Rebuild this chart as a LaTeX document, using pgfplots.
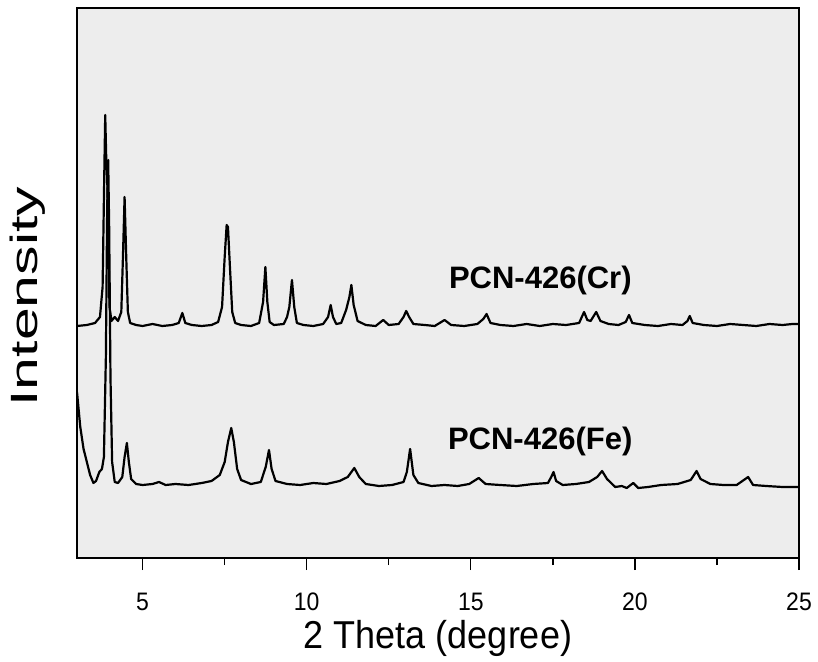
\documentclass[border=0pt]{standalone}
\usepackage{fontspec}
\setmainfont{Liberation Sans}
\usepackage{pgfplots}
\pgfplotsset{compat=1.18}
\begin{document}
\begin{tikzpicture}
\useasboundingbox (-77pt,-103pt) rectangle (741pt,558pt);
\begin{axis}[
  at={(0pt,0pt)}, anchor=south west,
  scale only axis, width=722pt, height=550pt,
  xmin=3, xmax=25, ymin=-1, ymax=549,
  xtick={5,10,15,20,25}, minor xtick={7.5,12.5,17.5,22.5},
  ytick=\empty,
  xtick pos=bottom, tick align=outside,
  major tick length=12pt, minor tick length=7pt,
  every tick/.style={black, line width=1.3pt},
  axis line style={line width=2pt},
  axis background/.style={fill=black!7},
  /pgf/number format/assume math mode=true,
  xticklabel style={font=\fontsize{23}{24}\selectfont, anchor=base, yshift=-40pt, yscale=1.1},
  xlabel={2 Theta (degree)},
  xlabel style={font=\fontsize{36}{38}\selectfont, at={(axis description cs:0.5,0)}, anchor=base, yshift=-90pt, yscale=1.08},
  ylabel={Intensity},
  ylabel style={font=\fontsize{38}{40}\selectfont, at={(axis description cs:-0.068,0.475)}, anchor=center, xscale=1.55},
  clip=true,
]
% PCN-426(Cr)
\addplot[black, line width=2.2pt, line join=round] coordinates {
(3.0,231) (3.3,232) (3.55,234) (3.7,240) (3.78,270) (3.83,380) (3.86,442) (3.89,400) (3.92,380) (3.95,330) (3.99,250) (4.05,236) (4.15,240) (4.25,236) (4.35,245) (4.40,300) (4.45,360) (4.50,300) (4.55,245) (4.62,234) (4.8,232) (5.0,231) (5.3,233) (5.6,231) (5.9,232) (6.1,234) (6.21,244) (6.3,234) (6.5,232) (6.8,231) (7.1,232) (7.3,235) (7.42,250) (7.5,300) (7.56,332) (7.6,330) (7.66,290) (7.73,245) (7.82,234) (8.0,232) (8.3,231) (8.55,234) (8.67,255) (8.74,290) (8.8,255) (8.87,235) (9.0,232) (9.3,233) (9.4,240) (9.47,250) (9.55,277) (9.62,250) (9.7,234) (9.9,232) (10.2,231) (10.5,233) (10.65,240) (10.73,252) (10.8,240) (10.9,233) (11.05,234) (11.2,247) (11.3,260) (11.36,272) (11.43,252) (11.55,236) (11.8,232) (12.1,231) (12.33,237) (12.5,232) (12.8,233) (12.95,240) (13.03,246) (13.12,240) (13.25,233) (13.6,232) (13.9,231) (14.2,237) (14.4,232) (14.8,231) (15.2,233) (15.38,238) (15.48,243) (15.6,234) (15.9,232) (16.3,231) (16.7,233) (17.1,231) (17.5,233) (17.9,232) (18.3,234) (18.45,245) (18.55,237) (18.65,236) (18.82,245) (18.95,236) (19.2,233) (19.5,232) (19.72,235) (19.82,242) (19.92,234) (20.3,232) (20.7,231) (21.1,233) (21.45,232) (21.6,236) (21.67,241) (21.76,234) (22.1,232) (22.5,231) (22.9,233) (23.3,232) (23.7,231) (24.1,233) (24.5,232) (24.8,233) (25.0,233)
};
% PCN-426(Fe)
\addplot[black, line width=2.2pt, line join=round] coordinates {
(3.0,165) (3.1,130) (3.2,108) (3.3,95) (3.4,82) (3.5,74) (3.58,76) (3.68,85) (3.76,88) (3.82,100) (3.88,200) (3.92,350) (3.95,397) (3.98,330) (4.02,180) (4.07,95) (4.15,75) (4.25,74) (4.38,80) (4.45,100) (4.52,114) (4.58,95) (4.65,78) (4.8,73) (5.0,72) (5.3,73) (5.5,75) (5.7,72) (6.0,73) (6.4,72) (6.8,74) (7.1,76) (7.35,82) (7.5,95) (7.6,115) (7.7,129) (7.78,115) (7.88,88) (8.0,77) (8.3,73) (8.6,75) (8.75,90) (8.85,107) (8.93,88) (9.05,76) (9.4,73) (9.8,72) (10.2,74) (10.6,73) (11.0,76) (11.25,80) (11.45,89) (11.6,80) (11.8,73) (12.2,71) (12.6,72) (12.95,75) (13.05,85) (13.15,108) (13.25,82) (13.4,74) (13.8,71) (14.2,72) (14.6,71) (14.95,73) (15.24,79) (15.45,73) (15.9,72) (16.4,71) (16.9,73) (17.35,74) (17.45,80) (17.52,85) (17.6,76) (17.8,72) (18.2,73) (18.6,75) (18.85,80) (19.0,86) (19.15,78) (19.4,70) (19.6,71) (19.75,69) (19.95,74) (20.1,69) (20.4,70) (20.8,72) (21.3,73) (21.7,77) (21.88,86) (22.0,78) (22.3,73) (22.7,72) (23.1,72) (23.45,80) (23.6,72) (24.0,71) (24.5,70) (25.0,70)
};
\node[anchor=west, inner sep=0pt, font=\bfseries\fontsize{31}{32}\selectfont] at (axis cs:14.33,277) {PCN-426(Cr)};
\node[anchor=west, inner sep=0pt, font=\bfseries\fontsize{31}{32}\selectfont] at (axis cs:14.30,116) {PCN-426(Fe)};
\end{axis}
\end{tikzpicture}
\end{document}
